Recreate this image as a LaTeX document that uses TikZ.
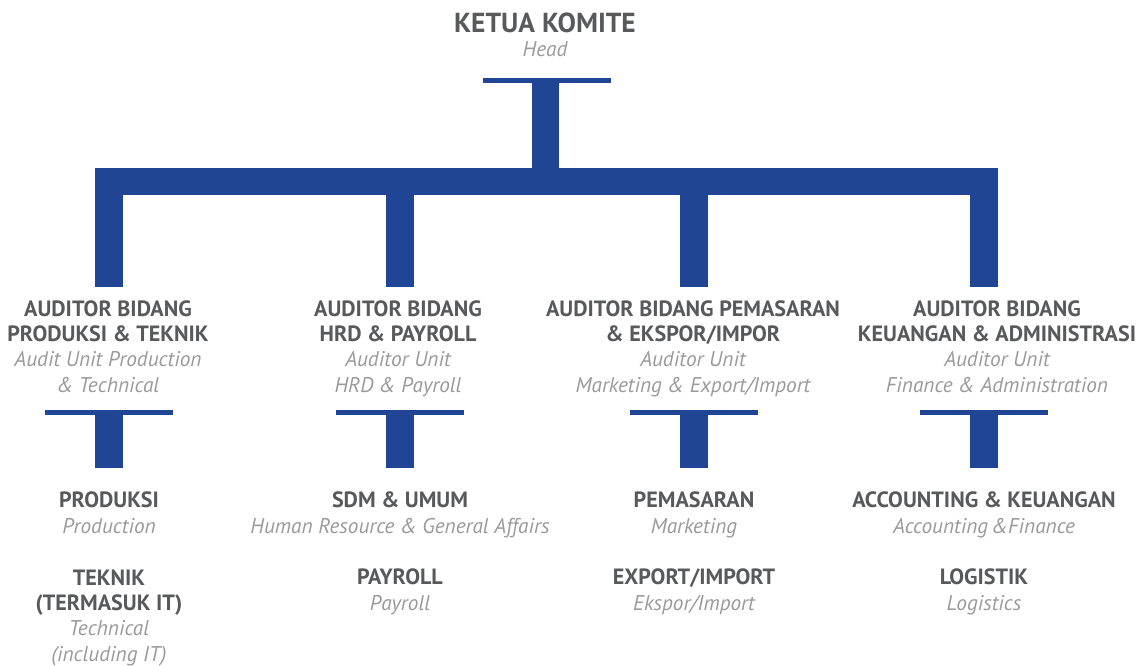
\documentclass[tikz,border=0pt]{standalone}
\usepackage{fontspec}
\setmainfont{PT Sans}
\definecolor{blu}{HTML}{1F4594}
\definecolor{dg}{HTML}{58595B}
\definecolor{lg}{HTML}{9A9A9A}
\newcommand\bt[1]{{\fontsize{22.1}{25.3}\selectfont\color{dg}\bfseries #1}}
\newcommand\ix[1]{{\fontsize{21.3}{25.3}\selectfont\color{lg}\itshape #1}}
\tikzset{
  lbl/.style={anchor=base, align=center, inner sep=0pt, font=\fontsize{22.1}{25.3}\selectfont},
  toplbl/.style={anchor=base, align=center, inner sep=0pt, font=\fontsize{27.5}{30}\selectfont},
  bar/.style={fill=blu},
}
\begin{document}
\begin{tikzpicture}[x=1pt,y=-1pt]
\useasboundingbox (0,0) rectangle (1144,666);
% top
\node[toplbl] (head) at (545,33) {\textcolor{dg}{\textbf{KETUA KOMITE}}};
\node[lbl] (headen) at (545,57) {\ix{Head}};
\coordinate (tbA) at (483,78); \coordinate (tbB) at (611,83);
\coordinate (tsA) at (532,83); \coordinate (tsB) at (559,168);
\coordinate (hbA) at (95,168); \coordinate (hbB) at (998,195);
\fill[bar] (tbA) rectangle (tbB);
\fill[bar] (tsA) rectangle (tsB);
\fill[bar] (hbA) rectangle (hbB);
% columns
\foreach \cx/\nm in {109/a,400/b,694/c,984/d}{
  \coordinate (s1\nm) at (\cx-14,195); \coordinate (e1\nm) at (\cx+14,287);
  \coordinate (t\nm) at (\cx-64,410); \coordinate (u\nm) at (\cx+64,415);
  \coordinate (s2\nm) at (\cx-14,415); \coordinate (e2\nm) at (\cx+14,468);
  \fill[bar] (s1\nm) rectangle (e1\nm);
  \fill[bar] (t\nm) rectangle (u\nm);
  \fill[bar] (s2\nm) rectangle (e2\nm);
}
% mid labels (anchor = baseline of last line)
\node[lbl] (ma) at (108,392) {\bt{AUDITOR BIDANG}\\\bt{PRODUKSI \& TEKNIK}\\\ix{Audit Unit Production}\\\ix{\& Technical}};
\node[lbl] (mb) at (398,392) {\bt{AUDITOR BIDANG}\\\bt{HRD \& PAYROLL}\\\ix{Auditor Unit}\\\ix{HRD \& Payroll}};
\node[lbl] (mc) at (693,392) {\bt{AUDITOR BIDANG PEMASARAN}\\\bt{\& EKSPOR/IMPOR}\\\ix{Auditor Unit}\\\ix{Marketing \& Export/Import}};
\node[lbl] (md) at (997,392) {\bt{AUDITOR BIDANG}\\\bt{KEUANGAN \& ADMINISTRASI}\\\ix{Auditor Unit}\\\ix{Finance \& Administration}};
% bottom labels
\node[lbl] (ba1) at (109,533) {\bt{PRODUKSI}\\\ix{Production}};
\node[lbl] (ba2) at (109,661) {\bt{TEKNIK}\\\bt{(TERMASUK IT)}\\\ix{Technical}\\\ix{(including IT)}};
\node[lbl] (bb1) at (400,533) {\bt{SDM \& UMUM}\\\ix{Human Resource \& General Affairs}};
\node[lbl] (bb2) at (400,610) {\bt{PAYROLL}\\\ix{Payroll}};
\node[lbl] (bc1) at (694,533) {\bt{PEMASARAN}\\\ix{Marketing}};
\node[lbl] (bc2) at (694,610) {\bt{EXPORT/IMPORT}\\\ix{Ekspor/Import}};
\node[lbl] (bd1) at (984,533) {\bt{ACCOUNTING \& KEUANGAN}\\\ix{Accounting\,\&Finance}};
\node[lbl] (bd2) at (984,610) {\bt{LOGISTIK}\\\ix{Logistics}};
\end{tikzpicture}
\end{document}
